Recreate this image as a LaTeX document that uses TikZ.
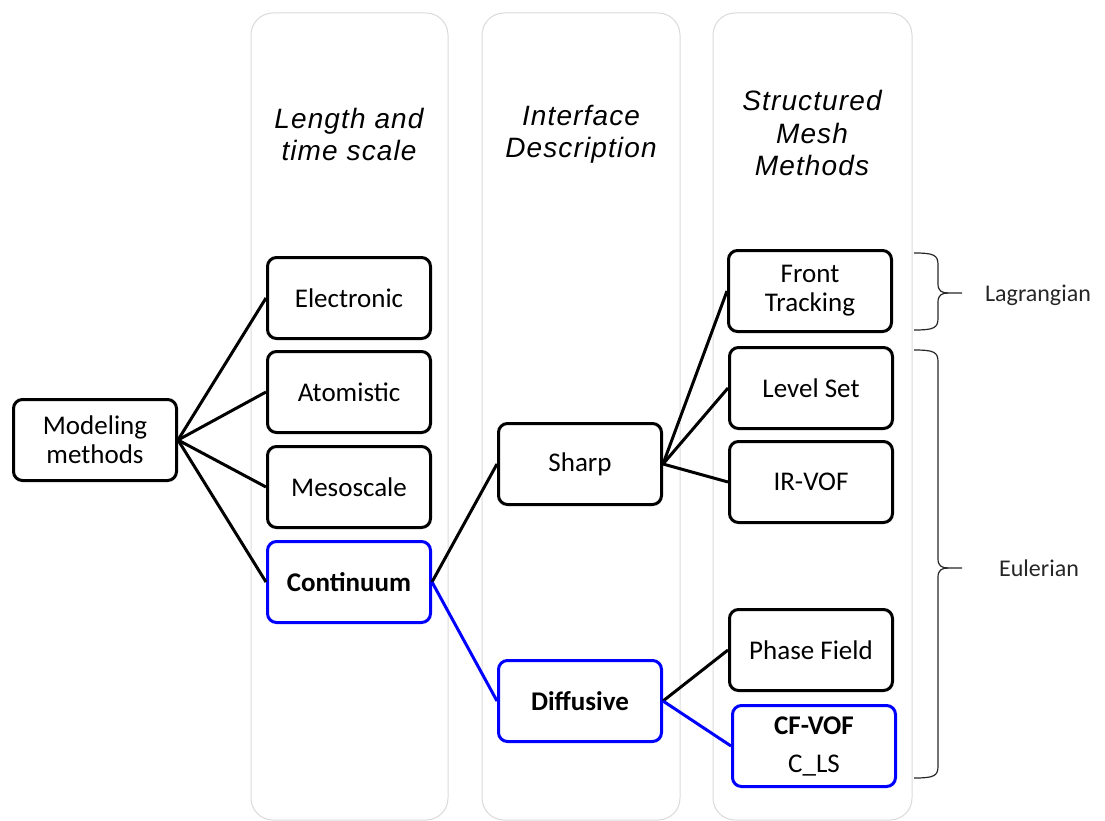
\documentclass[tikz,border=0pt]{standalone}
\usepackage{fontspec}
\setmainfont{Carlito}
\newfontfamily\hdrfont[LetterSpace=4]{Liberation Sans}
\definecolor{colgray}{HTML}{DADADA}
\definecolor{selblue}{RGB}{0,0,255}

\tikzset{
  column/.style={draw=colgray, line width=1pt, rounded corners=22pt},
  header/.style={align=center, font=\hdrfont\itshape\fontsize{28}{32}\selectfont},
  box/.style={draw=black, line width=3pt, rounded corners=9pt, fill=white,
    minimum width=163pt, minimum height=81pt, align=center, inner sep=2pt,
    font=\fontsize{27}{29}\selectfont},
  selbox/.style={box, draw=selblue},
  link/.style={line width=3pt, draw=black},
  sellink/.style={line width=3pt, draw=selblue},
  bracket/.style={line width=1.2pt, draw=black!85},
  tag/.style={font=\fontsize{24}{28}\selectfont, text=black!85}
}

\newcommand{\groupbrace}[4]{% x of the ends, top y, bottom y, middle y
  \draw[bracket]
    (#1,#2) .. controls (#1+20,#2) and (#1+24,#2+2) .. (#1+24,#2+12)
    -- (#1+24,#4-9) .. controls (#1+24,#4-2) and (#1+28,#4) .. (#1+34,#4)
    -- (#1+48,#4);
  \draw[bracket]
    (#1+34,#4) .. controls (#1+28,#4) and (#1+24,#4+2) .. (#1+24,#4+9)
    -- (#1+24,#3-12) .. controls (#1+24,#3-2) and (#1+20,#3) .. (#1,#3);
}

\begin{document}
\begin{tikzpicture}[x=1pt, y=-1pt]
\useasboundingbox (0,0) rectangle (1105,821);

% background columns
\draw[column] (251,13) rectangle (448,820);
\draw[column] (482,13) rectangle (680,820);
\draw[column] (713,13) rectangle (912,820);

% column headings
\node[header] (h1) at (349,134) {Length and\\time scale};
\node[header] (h2) at (581,134) {Interface\\Description};
\node[header] (h3) at (812,133) {Structured\\Mesh\\Methods};

% boxes
\node[box] (mm) at (95,440) {Modeling\\methods};

\node[box] (el) at (349,298) {Electronic};
\node[box] (at) at (349,392) {Atomistic};
\node[box] (me) at (349,487) {Mesoscale};
\node[selbox, font=\bfseries\fontsize{27}{29}\selectfont] (co) at (349,582) {Continuum};

\node[box] (sh) at (580,464) {Sharp};
\node[selbox, font=\bfseries\fontsize{27}{29}\selectfont] (di) at (580,701) {Diffusive};

\node[box] (ft) at (810,291) {Front\\Tracking};
\node[box] (ls) at (811,388) {Level Set};
\node[box] (ir) at (811,482) {IR-VOF};
\node[box] (pf) at (811,650) {Phase Field};
\node[selbox] (cf) at (814,746) {\textbf{CF-VOF}\\[9pt]C\_LS};

% connectors
\draw[link] (mm.east) -- (el.west);
\draw[link] (mm.east) -- (at.west);
\draw[link] (mm.east) -- (me.west);
\draw[link] (mm.east) -- (co.west);

\draw[link] (co.east) -- (sh.west);
\draw[sellink] (co.east) -- (di.west);

\draw[link] (sh.east) -- (ft.west);
\draw[link] (sh.east) -- (ls.west);
\draw[link] (sh.east) -- (ir.west);

\draw[link] (di.east) -- (pf.west);
\draw[sellink] (di.east) -- (cf.west);

% groupings
\groupbrace{914}{253}{330}{293}
\node[tag] (lag) at (1038,295) {Lagrangian};
\groupbrace{914}{350}{778}{568}
\node[tag] (eul) at (1039,568) {Eulerian};
\end{tikzpicture}
\end{document}
